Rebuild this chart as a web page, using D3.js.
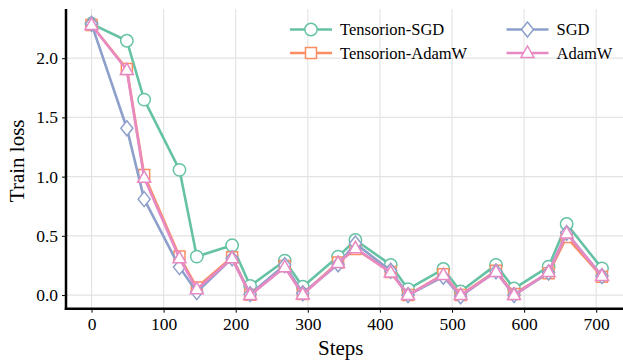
<!DOCTYPE html>
<html><head><meta charset="utf-8">
<script src="https://cdn.jsdelivr.net/npm/d3@7"></script>
<style>body{margin:0;background:#fff}svg{display:block}</style>
</head><body>
<svg id="c" width="623" height="363"></svg>
<script>
const steps = [0,49,73,122,146,195,220,268,293,342,366,415,439,488,512,561,586,634,659,708];
const tensorionSGD   = [2.29,2.147,1.65,1.057,0.325,0.42,0.078,0.29,0.07,0.325,0.465,0.255,0.05,0.22,0.03,0.255,0.055,0.24,0.60,0.225];
const tensorionAdamW = [2.28,1.908,1.014,0.325,0.064,0.32,0.003,0.245,0.01,0.275,0.39,0.195,0.0,0.175,0.0,0.205,0.01,0.185,0.49,0.155];
const sgd            = [2.29,1.408,0.81,0.236,0.025,0.31,0.008,0.253,0.015,0.26,0.435,0.205,0.0,0.155,-0.01,0.2,0.0,0.19,0.525,0.16];
const adamW          = [2.28,1.90,0.99,0.31,0.05,0.31,0.0,0.235,0.005,0.27,0.395,0.19,0.0,0.17,0.0,0.195,0.0,0.195,0.52,0.16];
const xTicks = [0,100,200,300,400,500,600,700];
const yTicks = [0.0,0.5,1.0,1.5,2.0];
const seriesNames = ["Tensorion-SGD","Tensorion-AdamW","SGD","AdamW"];
const seriesColors = ["#66c2a5","#fc8d62","#8da0cb","#e78ac3"];
const seriesMarkers = ["circle","square","diamond","triangle"];
const seriesData = [tensorionSGD, tensorionAdamW, sgd, adamW];

const svg = d3.select("#c");
const L = 66, R = 627.5, T = 9, B = 308.7;
const x = d3.scaleLinear().domain([-35.4, 743.4]).range([L, R]);
const y = d3.scaleLinear().domain([-0.115, 2.415]).range([B, T]);
const font = "'Liberation Serif','Times New Roman',serif";

// grid
const g = svg.append("g");
g.selectAll(".gx").data(xTicks).enter().append("line")
  .attr("x1", d=>x(d)).attr("x2", d=>x(d)).attr("y1", T).attr("y2", B)
  .attr("stroke", "#e3e3e3").attr("stroke-width", 1.1);
g.selectAll(".gy").data(yTicks).enter().append("line")
  .attr("x1", L).attr("x2", R).attr("y1", d=>y(d)).attr("y2", d=>y(d))
  .attr("stroke", "#e3e3e3").attr("stroke-width", 1.1);

// axes
const xAxis = d3.axisBottom(x).tickValues(xTicks).tickFormat(d3.format("d")).tickSize(4).tickPadding(5);
const yAxis = d3.axisLeft(y).tickValues(yTicks).tickFormat(d3.format(".1f")).tickSize(4).tickPadding(4);
const ax = svg.append("g").attr("transform", `translate(0,${B})`).call(xAxis);
const ay = svg.append("g").attr("transform", `translate(${L},0)`).call(yAxis);
[ax, ay].forEach(a => {
  a.select(".domain").remove();
  a.selectAll(".tick line").attr("stroke", "#000").attr("stroke-width", 1);
  a.selectAll(".tick text").attr("fill", "#000").style("font-family", font).style("font-size", "17.5px");
});
// spines
svg.append("line").attr("x1", L).attr("x2", L).attr("y1", T).attr("y2", B+1.25).attr("stroke","#000").attr("stroke-width",2.5);
svg.append("line").attr("x1", L-1.25).attr("x2", R).attr("y1", B).attr("y2", B).attr("stroke","#000").attr("stroke-width",2.5);

// labels
svg.append("text").attr("x", (L+R)/2 - 6).attr("y", 355).attr("text-anchor","middle")
  .style("font-family", font).style("font-size","21px").text("Steps");
svg.append("text").attr("transform", `translate(24,${(T+B)/2+2}) rotate(-90)`).attr("text-anchor","middle")
  .style("font-family", font).style("font-size","21px").text("Train loss");

function markerPath(type){
  if(type==="circle") return d3.symbol().type(d3.symbolCircle).size(Math.PI*6.2*6.2)();
  if(type==="square") return d3.symbol().type(d3.symbolSquare).size(11*11)();
  if(type==="diamond") return "M0,-7.5L6,0L0,7.5L-6,0Z";
  return "M0,-7L6.5,4.5L-6.5,4.5Z";
}

const line = d3.line().x((d,i)=>x(steps[i])).y(d=>y(d));
seriesData.forEach((vals, k) => {
  const sg = svg.append("g");
  sg.append("path").datum(vals).attr("d", line).attr("fill","none")
    .attr("stroke", seriesColors[k]).attr("stroke-width", 2.6).attr("stroke-linejoin","round");
  sg.selectAll("path.m").data(vals).enter().append("path").attr("class","m")
    .attr("transform", (d,i)=>`translate(${x(steps[i])},${y(d)})`)
    .attr("d", markerPath(seriesMarkers[k]))
    .attr("fill","#fff").attr("stroke", seriesColors[k]).attr("stroke-width", 1.5);
});

// legend
const legPos = [[290,29.5],[290,53],[506.5,29.5],[506.5,53]];
seriesNames.forEach((name,k) => {
  const [lx, ly] = legPos[k];
  const lg = svg.append("g");
  lg.append("line").attr("x1", lx).attr("x2", lx+42).attr("y1", ly).attr("y2", ly)
    .attr("stroke", seriesColors[k]).attr("stroke-width", 2.6);
  lg.append("path").attr("transform", `translate(${lx+21},${ly})`).attr("d", markerPath(seriesMarkers[k]))
    .attr("fill","#fff").attr("stroke", seriesColors[k]).attr("stroke-width",1.5);
  lg.append("text").attr("x", lx+50).attr("y", ly+5.5)
    .style("font-family", font).style("font-size","16.5px").text(name);
});
</script>
</body></html>
